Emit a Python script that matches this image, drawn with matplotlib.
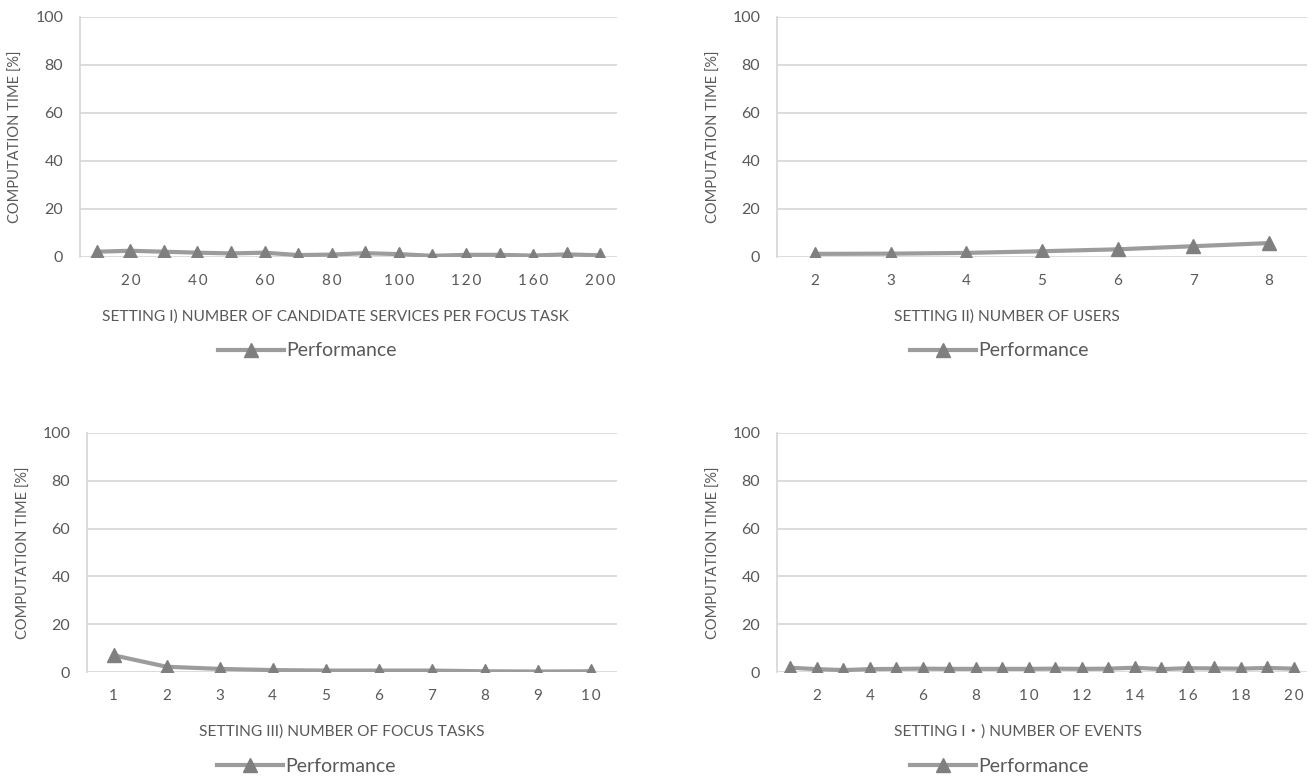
import matplotlib
matplotlib.use("Agg")
import matplotlib.pyplot as plt

plt.rcParams['font.family'] = ['Lato', 'Noto Sans CJK JP', 'DejaVu Sans']

# Setting I: candidate services per focus task
cand_services = [10, 20, 30, 40, 50, 60, 70, 80, 90, 100, 110, 120, 140, 160, 180, 200]
cand_time = [2.2, 2.6, 2.2, 1.8, 1.5, 1.8, 0.8, 1.0, 1.6, 1.2, 0.5, 0.9, 0.9, 0.6, 1.1, 0.7]

# Setting II: users
users = [2, 3, 4, 5, 6, 7, 8]
users_time = [1.3, 1.4, 1.7, 2.4, 3.2, 4.5, 5.8]

# Setting III: focus tasks
focus_tasks = [1, 2, 3, 4, 5, 6, 7, 8, 9, 10]
focus_time = [7.0, 2.2, 1.3, 0.8, 0.6, 0.6, 0.6, 0.3, 0.2, 0.3]

# Setting IV: events
events = list(range(1, 21))
events_time = [1.8, 1.2, 0.8, 1.2, 1.3, 1.4, 1.3, 1.3, 1.3, 1.3,
               1.4, 1.3, 1.4, 1.8, 1.2, 1.6, 1.5, 1.4, 1.7, 1.4]

y_ticks = [0, 20, 40, 60, 80, 100]

GRID = '#D9D9D9'
TEXT = '#595959'
LINE = '#9C9C9C'
MARK = '#7F7F7F'

W, H = 1313, 778
fig = plt.figure(figsize=(W / 100, H / 100), dpi=100)


def spaced(v):
    return '\u2009'.join(str(v))


def panel(rect_px, cats, vals, xlabel, every=1, spread=False,
          title_x=0.47, legend_x=0.42):
    x0, x1, ytop, ybot = rect_px
    h = ybot - ytop
    ax = fig.add_axes([x0 / W, 1 - ybot / H, (x1 - x0) / W, h / H])
    pos = list(range(1, len(cats) + 1))
    ax.plot(pos, vals, color=LINE, lw=3.0, marker='^', ms=10.5,
            mfc=MARK, mec=MARK, label='Performance', solid_joinstyle='round')
    ax.set_xlim(0.5, len(cats) + 0.5)
    ax.set_ylim(0, 100)
    ax.set_yticks(y_ticks)
    ax.yaxis.grid(True, color=GRID, lw=1.3)
    ax.set_axisbelow(True)
    for s in ['top', 'right', 'bottom']:
        ax.spines[s].set_visible(False)
    ax.spines['left'].set_color(GRID)
    ax.spines['left'].set_linewidth(1.3)
    ax.set_xticks(pos)
    labels = []
    for i, c in enumerate(cats):
        if (i + 1) % every == 0:
            labels.append(spaced(c) if spread else str(c))
        else:
            labels.append('')
    ax.set_xticklabels(labels)
    ax.tick_params(axis='x', length=0, pad=12, labelsize=11, labelcolor=TEXT)
    ax.tick_params(axis='y', length=0, pad=12, labelsize=11.5, labelcolor=TEXT)
    ax.set_ylabel('COMPUTATION TIME [%]', fontsize=10.5, color=TEXT)
    ax.yaxis.set_label_coords(-0.12, 0.5)
    ax.yaxis.label.set_va('center')
    ax.set_xlabel(xlabel, fontsize=11.2, color=TEXT)
    ax.xaxis.set_label_coords(title_x, -60 / h)
    ax.xaxis.label.set_va('center')
    ax.legend(loc='center', bbox_to_anchor=(legend_x, -94 / h), frameon=False,
              fontsize=14, handlelength=3.4, handletextpad=0.1,
              labelcolor=TEXT)
    return ax


panel((80, 617, 17, 257), cand_services, cand_time,
      'SETTING I) NUMBER OF CANDIDATE SERVICES PER FOCUS TASK', every=2, spread=True,
      title_x=0.476, legend_x=0.423)
panel((777, 1307, 17, 257), users, users_time,
      'SETTING II) NUMBER OF USERS', title_x=0.434, legend_x=0.42)
panel((87, 617, 433, 672), focus_tasks, focus_time,
      'SETTING III) NUMBER OF FOCUS TASKS', spread=True,
      title_x=0.48, legend_x=0.414)
panel((777, 1307, 433, 672), events, events_time,
      'SETTING I\u30fb) NUMBER OF EVENTS', every=2, spread=True,
      title_x=0.455, legend_x=0.42)

fig.savefig('out.png', dpi=100)
